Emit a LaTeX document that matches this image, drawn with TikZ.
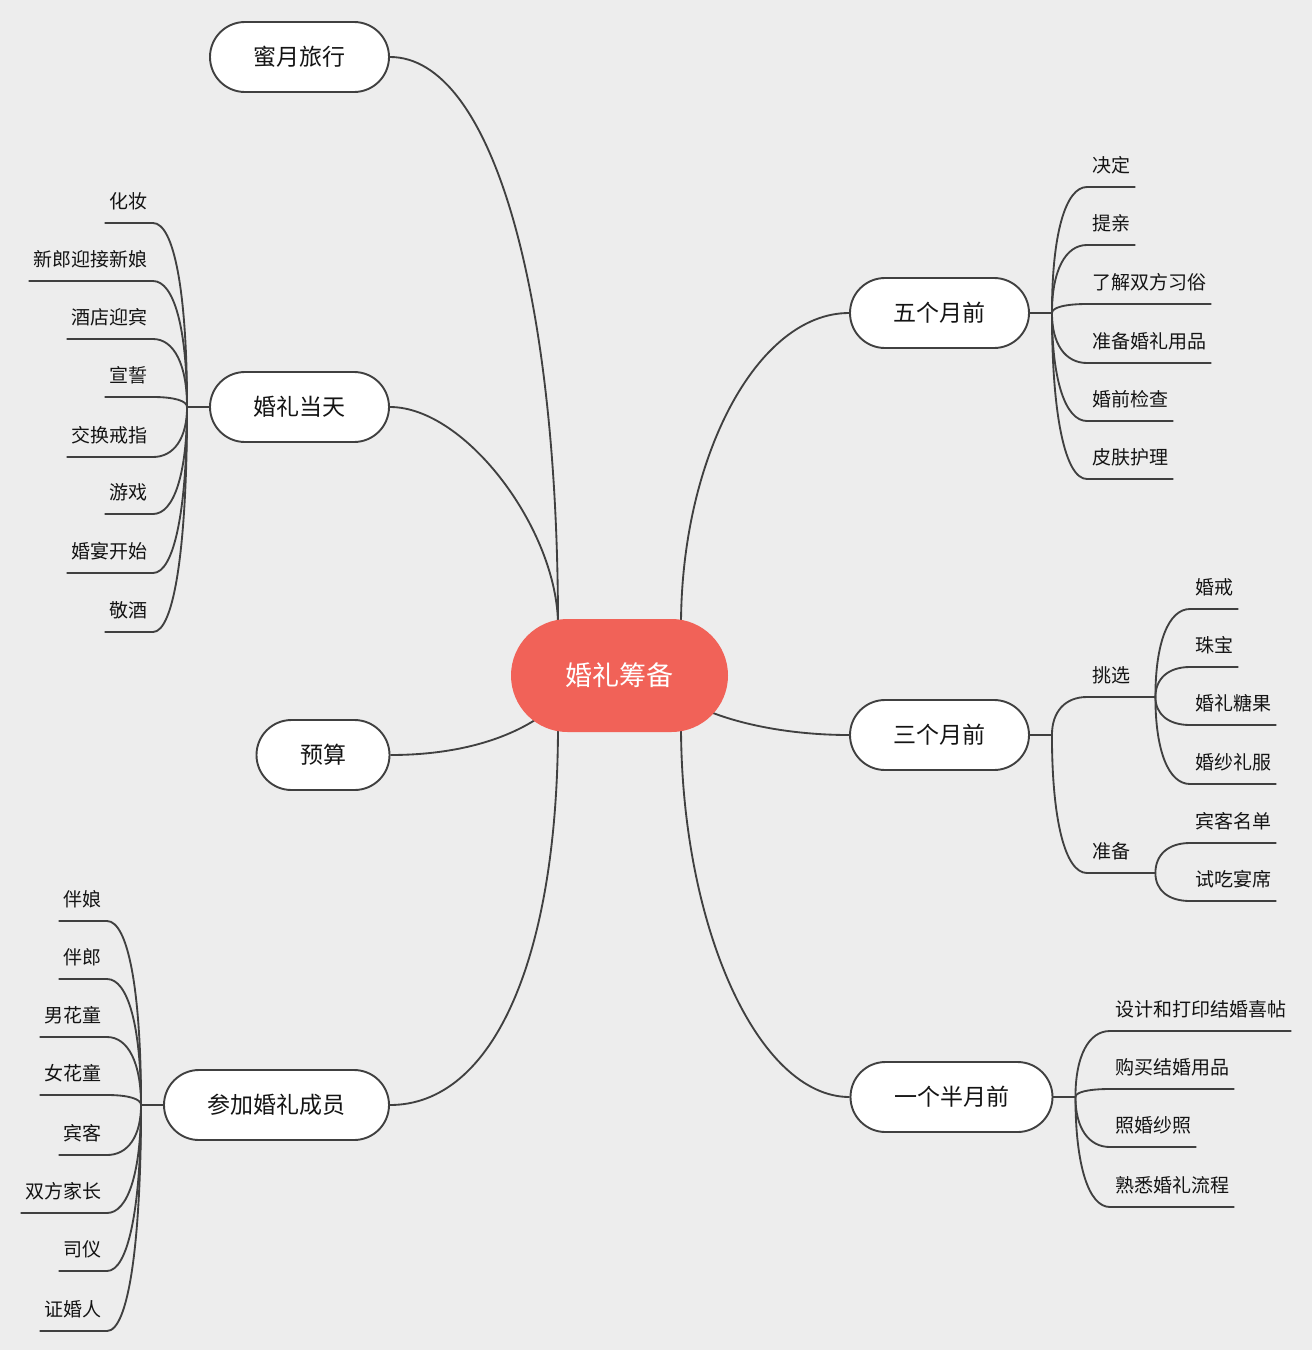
\documentclass[tikz,border=0pt]{standalone}
\usepackage{fontspec}
\newfontfamily\cjk{Noto Sans CJK SC}
\usetikzlibrary{calc}
\pgfdeclarelayer{background}
\pgfsetlayers{background,main}
\definecolor{bgc}{RGB}{237,237,237}
\definecolor{linec}{RGB}{64,64,64}
\definecolor{rootc}{RGB}{241,98,88}
\definecolor{txt}{RGB}{20,20,20}
\tikzset{
  conn/.style={draw=linec, line width=1.85pt},
  xcurve/.style={to path={.. controls ($(\tikztostart)!0.62!(\tikztostart|-\tikztotarget)$) and ($(\tikztotarget)!0.62!(\tikztostart|-\tikztotarget)$) .. (\tikztotarget)}},
  rootnode/.style={fill=rootc, text=white, font=\cjk\fontsize{27}{27}\selectfont,
    rounded corners=56.5pt, minimum height=113pt, inner xsep=54.5pt, inner ysep=0pt,
    text height=22.4pt, text depth=1.9pt},
  topic/.style={draw=linec, line width=1.9pt, fill=white, text=txt,
    font=\cjk\fontsize{23}{23}\selectfont, rounded corners=35pt, minimum height=70pt,
    inner xsep=43.5pt, inner ysep=0pt, text height=19.1pt, text depth=1.6pt},
  leaf/.style={text=txt, font=\cjk\fontsize{19}{19}\selectfont, inner xsep=5pt,
    inner ysep=0pt, text height=16pt, text depth=14pt},
}
\begin{document}
\begin{tikzpicture}[x=1pt,y=-1pt]
\begin{pgfonlayer}{background}
\fill[bgc] (0,0) rectangle (1312,1350);
\end{pgfonlayer}
\useasboundingbox (0,0) rectangle (1312,1350);

% central and main topics
\node[rootnode] (root) at (619.5,675.5) {婚礼筹备};
\node[topic] (honey) at (299.5,57) {蜜月旅行};
\node[topic] (day) at (299.5,407) {婚礼当天};
\node[topic] (budget) at (323,755) {预算};
\node[topic] (guests) at (276.5,1105) {参加婚礼成员};
\node[topic] (m5) at (939.5,313) {五个月前};
\node[topic] (m3) at (939.5,735) {三个月前};
\node[topic] (m15) at (951.5,1097) {一个半月前};

\coordinate (rNW) at ($(root.center)+(-61.5,-50)$);
\coordinate (rNE) at ($(root.center)+(61.5,-50)$);
\coordinate (rSW) at ($(root.center)+(-61.5,50)$);
\coordinate (rSE) at ($(root.center)+(61.5,50)$);
\coordinate (rW) at ($(root.center)+(-84.5,44.5)$);
\coordinate (rE) at ($(root.center)+(93.5,37.5)$);

\begin{pgfonlayer}{background}
\draw[conn] (rNW) .. controls +(0,-337) and +(101,0) .. (honey.east);
\draw[conn] (rNW) .. controls +(0,-95) and +(76,0) .. (day.east);
\draw[conn] (rSW) .. controls +(0,231) and +(104,0) .. (guests.east);
\draw[conn] (rNE) .. controls +(0,-168) and +(-92,0) .. (m5.west);
\draw[conn] (rSE) .. controls +(0,200) and +(-92,0) .. (m15.west);
\draw[conn] (budget.east) .. controls +(60,0) and +(-35,22) .. (rW);
\draw[conn] (rE) .. controls +(37,14) and +(-50,0) .. (m3.west);
\end{pgfonlayer}

% junctions
\coordinate (m5J) at ($(m5.east)+(22,0)$);
\coordinate (m3J) at ($(m3.east)+(22,0)$);
\coordinate (m15J) at ($(m15.east)+(22,0)$);
\coordinate (dayJ) at ($(day.west)+(-22,0)$);
\coordinate (guestsJ) at ($(guests.west)+(-22,0)$);
\draw[conn] (m5.east) -- (m5J);
\draw[conn] (m3.east) -- (m3J);
\draw[conn] (m15.east) -- (m15J);
\draw[conn] (day.west) -- (dayJ);
\draw[conn] (guests.west) -- (guestsJ);

% five months before
\foreach \n/\t/\y in {a1/决定/187, a2/提亲/245, a3/了解双方习俗/304, a4/准备婚礼用品/363, a5/婚前检查/421, a6/皮肤护理/479}{
  \node[leaf, anchor=south west] (\n) at (1087,\y) {\t};
  \draw[conn] (m5J) to[xcurve] (\n.south west) -- (\n.south east);
}

% three months before
\node[leaf, anchor=south west] (pick) at (1087,697) {挑选};
\node[leaf, anchor=south west] (prep) at (1087,873) {准备};
\coordinate (pickJ) at ($(pick.south east)+(20,0)$);
\coordinate (prepJ) at ($(prep.south east)+(20,0)$);
\draw[conn] (m3J) to[xcurve] (pick.south west) -- (pickJ);
\draw[conn] (m3J) to[xcurve] (prep.south west) -- (prepJ);
\foreach \n/\t/\y in {b1/婚戒/609, b2/珠宝/667, b3/婚礼糖果/725, b4/婚纱礼服/784}{
  \node[leaf, anchor=south west] (\n) at (1190,\y) {\t};
  \draw[conn] (pickJ) to[xcurve] (\n.south west) -- (\n.south east);
}
\foreach \n/\t/\y in {c1/宾客名单/843, c2/试吃宴席/901}{
  \node[leaf, anchor=south west] (\n) at (1190,\y) {\t};
  \draw[conn] (prepJ) to[xcurve] (\n.south west) -- (\n.south east);
}

% one and a half months before
\foreach \n/\t/\y in {d1/设计和打印结婚喜帖/1031, d2/购买结婚用品/1089, d3/照婚纱照/1147, d4/熟悉婚礼流程/1207}{
  \node[leaf, anchor=south west] (\n) at (1110,\y) {\t};
  \draw[conn] (m15J) to[xcurve] (\n.south west) -- (\n.south east);
}

% wedding day
\foreach \n/\t/\y in {e1/化妆/223, e2/新郎迎接新娘/281, e3/酒店迎宾/339, e4/宣誓/397, e5/交换戒指/457, e6/游戏/514, e7/婚宴开始/573, e8/敬酒/632}{
  \node[leaf, anchor=south east] (\n) at (153,\y) {\t};
  \draw[conn] (dayJ) to[xcurve] (\n.south east) -- (\n.south west);
}

% wedding party members
\foreach \n/\t/\y in {f1/伴娘/921, f2/伴郎/979, f3/男花童/1037, f4/女花童/1095, f5/宾客/1155, f6/双方家长/1213, f7/司仪/1271, f8/证婚人/1331}{
  \node[leaf, anchor=south east] (\n) at (107,\y) {\t};
  \draw[conn] (guestsJ) to[xcurve] (\n.south east) -- (\n.south west);
}
\end{tikzpicture}
\end{document}
